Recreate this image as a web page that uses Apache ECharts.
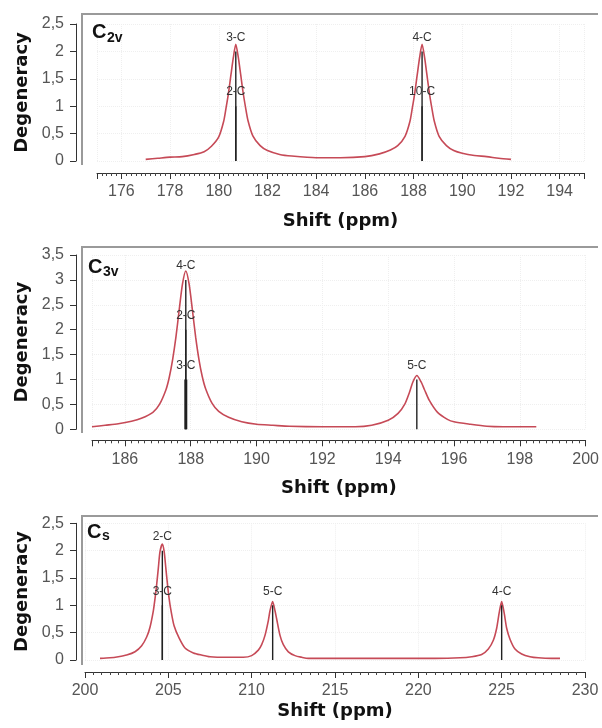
<!DOCTYPE html>
<html><head><meta charset="utf-8">
<script src="https://cdn.jsdelivr.net/npm/echarts@6/dist/echarts.min.js"></script>
<style>html,body{margin:0;padding:0;background:#fff}#c{width:602px;height:728px}</style>
</head><body><div id="c"></div>
<script>
// ---------- C2v panel ----------
const c2vX = [177.0,177.5,178.0,178.5,179.0,179.4,179.7,180.0,180.2,180.3,180.4,180.5,180.6,180.7,180.8,180.9,181.0,181.1,181.2,181.4,181.7,182.0,182.5,183.0,184.0,185.0,186.0,186.6,187.05,187.35,187.65,187.85,187.95,188.05,188.15,188.25,188.35,188.45,188.55,188.65,188.75,188.85,189.05,189.35,189.65,190.0,190.5,191.0,191.5,192.0];
const c2vY = [0.03,0.05,0.07,0.08,0.12,0.17,0.27,0.44,0.72,0.97,1.24,1.57,1.89,2.13,1.90,1.58,1.25,0.98,0.74,0.46,0.28,0.19,0.12,0.09,0.06,0.06,0.08,0.13,0.20,0.28,0.45,0.72,0.97,1.24,1.57,1.89,2.13,1.90,1.57,1.24,0.97,0.73,0.45,0.28,0.19,0.14,0.10,0.08,0.05,0.03];
const c2vStickX = [180.7, 180.7, 188.35, 188.35];
const c2vStickH = [1, 2, 1, 2];
const c2vStickLabel = ['2-C', '3-C', '10-C', '4-C'];

// ---------- C3v panel ----------
const c3vX = [185.0,185.4,185.8,186.2,186.5,186.85,187.05,187.25,187.35,187.45,187.55,187.65,187.75,187.85,187.95,188.05,188.15,188.25,188.35,188.45,188.65,188.85,189.15,189.55,190.0,190.5,191.0,192.0,193.0,193.5,194.0,194.3,194.5,194.65,194.75,194.87,195.0,195.1,195.25,195.5,195.8,196.0,196.5,197.0,197.5,198.5];
const c3vY = [0.05,0.08,0.11,0.16,0.22,0.34,0.50,0.80,1.05,1.40,1.85,2.40,2.92,3.18,2.92,2.40,1.85,1.40,1.06,0.82,0.52,0.36,0.24,0.15,0.10,0.08,0.06,0.05,0.05,0.08,0.18,0.32,0.50,0.75,0.95,1.08,0.95,0.80,0.58,0.34,0.20,0.15,0.10,0.06,0.05,0.05];
const c3vStickX = [187.85, 187.85, 187.85, 194.87];
const c3vStickH = [1, 2, 3, 1];
const c3vStickLabel = ['3-C', '2-C', '4-C', '5-C'];

// ---------- Cs panel ----------
const csX = [200.9,201.5,202.0,202.5,203.0,203.4,203.7,203.9,204.1,204.2,204.3,204.4,204.5,204.64,204.75,204.85,204.95,205.05,205.15,205.35,205.65,206.0,206.5,207.0,207.5,208.5,209.5,210.0,210.4,210.6,210.8,211.0,211.1,211.26,211.4,211.5,211.7,211.9,212.2,212.6,213.0,213.4,215.0,218.0,221.0,222.5,223.2,223.8,224.2,224.5,224.7,224.85,225.0,225.15,225.3,225.5,225.8,226.2,226.7,227.2,228.0,228.5];
const csY = [0.03,0.04,0.06,0.09,0.15,0.26,0.42,0.60,0.90,1.12,1.38,1.68,1.98,2.12,1.98,1.68,1.38,1.12,0.92,0.62,0.40,0.22,0.13,0.09,0.06,0.05,0.05,0.08,0.18,0.28,0.45,0.72,0.90,1.07,0.90,0.75,0.45,0.28,0.15,0.08,0.05,0.03,0.03,0.03,0.03,0.04,0.06,0.10,0.20,0.36,0.58,0.86,1.07,0.86,0.58,0.38,0.20,0.11,0.06,0.04,0.03,0.03];
const csStickX = [204.64, 204.64, 211.26, 225.0];
const csStickH = [1, 2, 1, 1];
const csStickLabel = ['3-C', '2-C', '5-C', '4-C'];

// ---------- build ----------
const panels = [
  {xs:c2vX, ys:c2vY, sx:c2vStickX, sh:c2vStickH, sl:c2vStickLabel, xmin:175, xmax:195, split:10, ymax:2.5, showMax:false},
  {xs:c3vX, ys:c3vY, sx:c3vStickX, sh:c3vStickH, sl:c3vStickLabel, xmin:185, xmax:200, split:8, ymax:3.5, showMax:true},
  {xs:csX,  ys:csY,  sx:csStickX,  sh:csStickH,  sl:csStickLabel,  xmin:200, xmax:230, interval:5, ymax:2.5, showMax:true}
];
const layout = [
  {left:97, right:18, top:24, bottom:728-161, yOff:21, xOff:12, nameGap:39},
  {left:92, right:15, top:255, bottom:728-429.3, yOff:16, xOff:11, nameGap:39},
  {left:85, right:17, top:523.3, bottom:728-660, yOff:9, xOff:12, nameGap:30}
];
const stickWidthOverride = {'1-0': 3};

const grid = [], xAxis = [], yAxis = [], series = [];
panels.forEach((p, i) => {
  const L = layout[i];
  grid.push({left:L.left, right:L.right, top:L.top, bottom:L.bottom, containLabel:false});
  const xa = {
    gridIndex:i, type:'value', min:p.xmin, max:p.xmax, offset:L.xOff,
    axisLine:{show:true, onZero:false, lineStyle:{color:'#333', width:1}},
    axisTick:{show:true, length:6, lineStyle:{color:'#333'}},
    minorTick:{show:true, splitNumber:10, length:3, lineStyle:{color:'#444'}},
    axisLabel:{showMinLabel:!!p.interval, showMaxLabel:p.showMax, fontSize:16, color:'#555', margin:11, fontFamily:'Liberation Sans'},
    splitLine:{show:true, lineStyle:{color:'#efefef', type:'dotted'}},
    name:'Shift (ppm)', nameLocation:'middle', nameGap:L.nameGap,
    nameTextStyle:{fontFamily:'DejaVu Sans', fontWeight:'bold', fontSize:18, color:'#111'}
  };
  if (p.interval) xa.interval = p.interval; else xa.splitNumber = p.split;
  xAxis.push(xa);
  yAxis.push({
    gridIndex:i, type:'value', min:0, max:p.ymax, interval:0.5, offset:L.yOff,
    axisLine:{show:true, lineStyle:{color:'#333', width:1}},
    axisTick:{show:true, length:6, lineStyle:{color:'#333'}},
    axisLabel:{fontSize:16, color:'#555', margin:12, fontFamily:'Liberation Sans',
      formatter:v => String(v).replace('.', ',')},
    splitLine:{show:true, lineStyle:{color:'#efefef', type:'dotted'}},
    name:'Degeneracy', nameLocation:'middle', nameGap:40, nameRotate:90,
    nameTextStyle:{fontFamily:'DejaVu Sans', fontWeight:'bold', fontSize:18, color:'#111'}
  });
  series.push({
    type:'line', xAxisIndex:i, yAxisIndex:i, smooth:0.25, symbol:'none',
    data:p.xs.map((x, k) => [x, p.ys[k]]),
    lineStyle:{color:'#c64a57', width:1.6}, z:2
  });
  p.sx.forEach((x, k) => {
    const w = stickWidthOverride[i + '-' + k] || 1.4;
    series.push({
      type:'line', xAxisIndex:i, yAxisIndex:i, symbol:'circle', symbolSize:0.1, showSymbol:true,
      itemStyle:{color:'#222'},
      lineStyle:{color:'#222', width:w}, z:3,
      data:[[x, 0], {value:[x, p.sh[k]], label:{show:true, position:'top', distance:8, formatter:p.sl[k],
        fontSize:12, color:'#333', fontFamily:'Liberation Sans'}}]
    });
  });
});

const frameTops = [14, 247, 516];
const frameBottoms = [165, 433, 665];
const graphic = [];
frameTops.forEach((t, i) => {
  graphic.push({type:'polyline', shape:{points:[[82, frameBottoms[i]], [82, t], [598, t]]},
    style:{stroke:'#9a9a9a', lineWidth:2, fill:null}, silent:true});
});
const titles = [
  {main:'C', sub:'2v', x:92, y:22, sx:107, sy:31},
  {main:'C', sub:'3v', x:88, y:257, sx:103, sy:265},
  {main:'C', sub:'s', x:87, y:522, sx:102, sy:529}
];
titles.forEach(t => {
  graphic.push({type:'text', left:t.x, top:t.y, silent:true, z:10,
    style:{text:t.main, fontSize:20, fontWeight:'bold', fontFamily:'Liberation Sans', fill:'#111', stroke:null, lineWidth:0}});
  graphic.push({type:'text', left:t.sx, top:t.sy, silent:true, z:10,
    style:{text:t.sub, fontSize:14, fontWeight:'bold', fontFamily:'Liberation Sans', fill:'#111', stroke:null, lineWidth:0}});
});

const chart = echarts.init(document.getElementById('c'), null, {renderer:'canvas'});
chart.setOption({animation:false, backgroundColor:'#fff', grid, xAxis, yAxis, series, graphic});
</script>
</body></html>
